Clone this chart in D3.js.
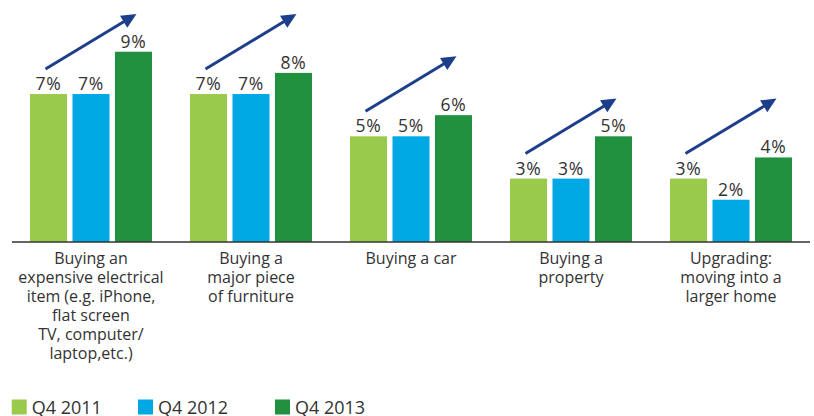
<!DOCTYPE html>
<html>
<head>
<meta charset="utf-8">
<script src="https://cdn.jsdelivr.net/npm/d3@7"></script>
<style>
  html, body { margin: 0; padding: 0; background: #fff; }
  svg { display: block; }
  text { font-family: "Open Sans", "Noto Sans", sans-serif; fill: #333; }
</style>
</head>
<body>
<div id="chart"></div>
<script>
// Purchase intentions by category, three survey periods
const categories = [
  ["Buying an", "expensive electrical", "item (e.g. iPhone,", "flat screen", "TV, computer/", "laptop,etc.)"],
  ["Buying a", "major piece", "of furniture"],
  ["Buying a car"],
  ["Buying a", "property"],
  ["Upgrading:", "moving into a", "larger home"]
];
const seriesNames = ["Q4 2011", "Q4 2012", "Q4 2013"];
const q4_2011 = [7, 7, 5, 3, 3];
const q4_2012 = [7, 7, 5, 3, 2];
const q4_2013 = [9, 8, 6, 5, 4];
const seriesValues = [q4_2011, q4_2012, q4_2013];
const colors = ["#9aca4c", "#00a9e4", "#21913f"];

const W = 814, H = 416;
const svg = d3.select("#chart").append("svg")
  .attr("width", W).attr("height", H);

const groupIdx = d3.range(categories.length);

const x0 = d3.scaleBand()
  .domain(groupIdx)
  .range([11, 811])
  .paddingInner(0.2375)
  .paddingOuter(0.11875);

const x1 = d3.scaleBand()
  .domain(d3.range(seriesNames.length))
  .range([0, x0.bandwidth()])
  .paddingInner(0.129)
  .paddingOuter(0);

const y = d3.scaleLinear()
  .domain([0, 10])
  .range([242, 242 - 211.4]);

const color = d3.scaleOrdinal().domain(d3.range(seriesNames.length)).range(colors);

// bars
const groups = svg.append("g").selectAll("g")
  .data(groupIdx)
  .join("g")
  .attr("transform", i => `translate(${x0(i)},0)`);

groups.selectAll("rect")
  .data(i => seriesValues.map((vals, s) => ({ s, v: vals[i] })))
  .join("rect")
  .attr("x", d => x1(d.s))
  .attr("width", x1.bandwidth())
  .attr("y", d => y(d.v))
  .attr("height", d => y(0) - y(d.v))
  .attr("fill", d => color(d.s));

// value labels
groups.selectAll("text.val")
  .data(i => seriesValues.map((vals, s) => ({ s, v: vals[i] })))
  .join("text")
  .attr("class", "val")
  .attr("x", d => x1(d.s) + x1.bandwidth() / 2)
  .attr("y", d => y(d.v) - 4)
  .attr("text-anchor", "middle")
  .style("font-size", "17.5px")
  .style("letter-spacing", "0.8px")
  .text(d => d.v + "%");

// baseline axis
const xAxis = d3.axisBottom(x0).tickSize(0).tickFormat("");
const axisG = svg.append("g")
  .attr("transform", `translate(0,${y(0)})`)
  .call(xAxis);
axisG.select(".domain")
  .attr("d", `M${x0.range()[0] + 1},0H${x0.range()[1] - 1}`)
  .attr("stroke", "#333")
  .attr("stroke-width", 1.3);

// category labels
const catLabels = svg.append("g").selectAll("text")
  .data(groupIdx)
  .join("text")
  .attr("text-anchor", "middle")
  .attr("x", i => x0(i) + x0.bandwidth() / 2)
  .attr("y", 264)
  .style("font-size", "16px");
catLabels.selectAll("tspan")
  .data(i => categories[i].map(line => ({ i, line })))
  .join("tspan")
  .attr("x", d => x0(d.i) + x0.bandwidth() / 2)
  .attr("dy", (d, k) => k === 0 ? 0 : 18.9)
  .text(d => d.line);

// trend arrows from first to last period
const arrowColor = "#1d3f8b";
const arrows = svg.append("g");
groupIdx.forEach(i => {
  const first = q4_2011[i];
  const x1s = x0(i) + x1(0) + x1.bandwidth() / 2 - 3;
  const x2s = x0(i) + x1(2) + x1.bandwidth() / 2 + 3;
  const ys = y(first) - 25;
  const ye = ys - 55;
  const ang = Math.atan2(ye - ys, x2s - x1s);
  const headLen = 15, headHalf = 7;
  const bx = x2s - headLen * Math.cos(ang), by = ye - headLen * Math.sin(ang);
  arrows.append("line")
    .attr("x1", x1s).attr("y1", ys)
    .attr("x2", bx + 2 * Math.cos(ang)).attr("y2", by + 2 * Math.sin(ang))
    .attr("stroke", arrowColor)
    .attr("stroke-width", 3);
  const px = -Math.sin(ang), py = Math.cos(ang);
  arrows.append("path")
    .attr("d", `M${x2s},${ye}L${bx + px * headHalf},${by + py * headHalf}L${bx - px * headHalf},${by - py * headHalf}Z`)
    .attr("fill", arrowColor);
});

// legend
const legendX = [11.7, 138, 275];
const legend = svg.append("g").selectAll("g")
  .data(seriesNames)
  .join("g")
  .attr("transform", (d, s) => `translate(${legendX[s]},399.5)`);
legend.append("rect")
  .attr("width", 15).attr("height", 15)
  .attr("fill", (d, s) => color(s));
legend.append("text")
  .attr("x", 20).attr("y", 14)
  .style("font-size", "18px")
  .text(d => d);
</script>
</body>
</html>
